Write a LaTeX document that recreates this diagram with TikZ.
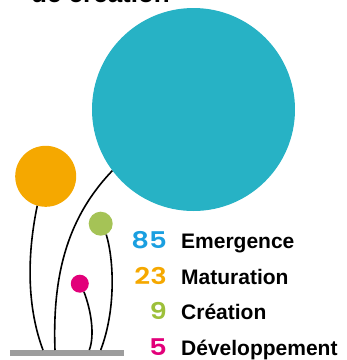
\documentclass[tikz,border=0pt]{standalone}
\usepackage{fontspec}
\setmainfont{Liberation Sans}
\newfontfamily\chiffres{Poppins SemiBold}[FakeStretch=1.2]
\usetikzlibrary{positioning}
\definecolor{turquoise}{HTML}{27B2C5}
\definecolor{orange}{HTML}{F5A800}
\definecolor{vert}{HTML}{A5C356}
\definecolor{magenta}{HTML}{E2007A}
\definecolor{bleu}{HTML}{1A9FE0}
\definecolor{vertchiffre}{HTML}{9DC03A}
\definecolor{gris}{HTML}{9D9D9D}
\begin{document}
\begin{tikzpicture}[x=1pt, y=-1pt, node distance=14pt, fleur/.style={circle, inner sep=0pt}, nom/.style={font=\fontsize{21}{21}\selectfont\bfseries, inner sep=0pt, anchor=base west}, chiffre/.style={font=\fontsize{23}{23}\chiffres, inner sep=0pt}]
\tikzstyle{tige}=[line width=1.6pt, black]
\useasboundingbox (0,0) rectangle (347,360);

\node (titre) [font=\fontsize{26}{26}\selectfont\bfseries, inner sep=0pt, anchor=base west] at (31,2.5) {de création};

% fleurs
\node (emergence) [fleur, fill=turquoise, minimum size=203pt] at (193.5,109.5) {};
\node (maturation) [fleur, fill=orange, minimum size=61pt] at (45.7,176.3) {};
\node (creation) [fleur, fill=vert, minimum size=24pt] at (100.7,223.7) {};
\node (developpement) [fleur, fill=magenta, minimum size=18pt] at (79.8,283.7) {};

% sol
\node (sol) [fill=gris, minimum width=114pt, minimum height=6pt, inner sep=0pt, anchor=north west] at (10,350) {};
\coordinate (pied1) at (43,350);
\coordinate (pied2) at (55,350);
\coordinate (pied3) at (89.3,350);
\coordinate (pied4) at (100.7,350);

% tiges
\draw [tige](maturation.254) .. controls (26,260) and (28,310) .. (pied1);
\draw [tige](emergence.217) .. controls (70,215) and (52,270) .. (pied2);
\draw [tige](developpement.297) .. controls (91,310) and (95,335) .. (pied3);
\draw [tige](creation.297) .. controls (114,260) and (116,310) .. (pied4);

% legende
\node (lemergence) [nom] at (181,248.5) {Emergence};
\node (lmaturation) [nom] at (181,284) {Maturation};
\node (lcreation) [nom] at (181,319.5) {Création};
\node (ldeveloppement) [nom] at (181,355) {Développement};
\node [chiffre, text=bleu, base left=of lemergence] {85};
\node [chiffre, text=orange, base left=of lmaturation] {23};
\node [chiffre, text=vertchiffre, base left=of lcreation] {9};
\node [chiffre, text=magenta, base left=of ldeveloppement] {5};
\end{tikzpicture}
\end{document}
